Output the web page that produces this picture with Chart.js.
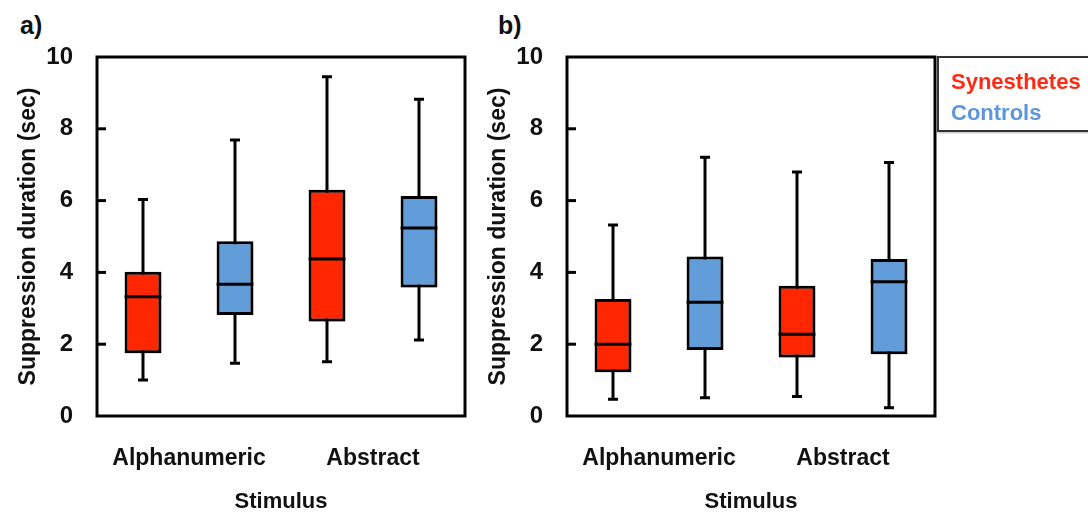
<!DOCTYPE html>
<html>
<head>
<meta charset="utf-8">
<script src="https://cdn.jsdelivr.net/npm/chart.js@4.4.0/dist/chart.umd.min.js"></script>
<style>
  body { margin: 0; background: #fff; width: 1088px; height: 516px; overflow: hidden; position: relative;
         font-family: 'Liberation Sans', Arial, sans-serif; }
  .panel { position: absolute; top: 0; width: 480px; height: 516px; }
  #wrapA { left: 0; }
  #wrapB { left: 470px; }
  .tag { position: absolute; top: 11px; font-weight: bold; font-size: 25px; color: #111; }
  #legend { position: absolute; left: 937px; top: 56px; width: 160px; border: 2px solid #333;
            box-shadow: 1px 1px 2px rgba(0,0,0,0.3); font-weight: bold; font-size: 22px; line-height: 31px;
            padding: 8px 0 0 12px; box-sizing: border-box; height: 76px; }
  #legend .syn { color: #ff2a14; }
  #legend .ctl { color: #5b97da; }
</style>
</head>
<body>
<div class="tag" style="left:20px">a)</div>
<div class="tag" style="left:498px">b)</div>
<div class="panel" id="wrapA"><canvas id="chartA" width="480" height="516"></canvas></div>
<div class="panel" id="wrapB"><canvas id="chartB" width="480" height="516"></canvas></div>
<div id="legend"><div class="syn">Synesthetes</div><div class="ctl">Controls</div></div>
<script>
// categorias
const categories = ['Alphanumeric', 'Abstract'];
const yTicks = [0, 2, 4, 6, 8, 10];

// panel a) - synesthetes
const aSynMin = [1.0, 1.51];
const aSynQ1 = [1.75, 2.63];
const aSynMed = [3.32, 4.37];
const aSynQ3 = [4.02, 6.30];
const aSynMax = [6.03, 9.45];
// panel a) - controls
const aCtlMin = [1.47, 2.12];
const aCtlQ1 = [2.81, 3.58];
const aCtlMed = [3.67, 5.24];
const aCtlQ3 = [4.87, 6.13];
const aCtlMax = [7.69, 8.82];

// panel b) - synesthetes
const bSynMin = [0.47, 0.54];
const bSynQ1 = [1.22, 1.63];
const bSynMed = [2.0, 2.28];
const bSynQ3 = [3.26, 3.63];
const bSynMax = [5.32, 6.80];
// panel b) - controls
const bCtlMin = [0.51, 0.23];
const bCtlQ1 = [1.84, 1.72];
const bCtlMed = [3.17, 3.74];
const bCtlQ3 = [4.44, 4.37];
const bCtlMax = [7.21, 7.06];

const red = '#ff2600';
const blue = '#629dd9';
const font = "'Liberation Sans', Arial, sans-serif";

// whiskers, medians, frame and inward ticks
const boxPlugin = {
  id: 'boxWhiskers',
  beforeDatasetsDraw(chart) {
    const { ctx, scales: { y } } = chart;
    ctx.save();
    ctx.strokeStyle = '#000';
    ctx.lineWidth = 3;
    chart.data.datasets.forEach((ds, di) => {
      chart.getDatasetMeta(di).data.forEach((bar, i) => {
        const lo = y.getPixelForValue(ds.lo[i]);
        const hi = y.getPixelForValue(ds.hi[i]);
        ctx.beginPath();
        ctx.moveTo(bar.x, lo); ctx.lineTo(bar.x, hi);
        ctx.moveTo(bar.x - 5, lo); ctx.lineTo(bar.x + 5, lo);
        ctx.moveTo(bar.x - 5, hi); ctx.lineTo(bar.x + 5, hi);
        ctx.stroke();
      });
    });
    ctx.restore();
    ctx.save();
    ctx.shadowColor = 'rgba(0,0,0,0.4)';
    ctx.shadowBlur = 5;
    ctx.shadowOffsetX = 2;
    ctx.shadowOffsetY = 2;
  },
  afterDatasetsDraw(chart) {
    const { ctx, chartArea: a, scales: { y } } = chart;
    ctx.restore();
    ctx.save();
    ctx.strokeStyle = '#000';
    ctx.lineWidth = 3;
    chart.data.datasets.forEach((ds, di) => {
      chart.getDatasetMeta(di).data.forEach((bar, i) => {
        const m = y.getPixelForValue(ds.med[i]);
        ctx.beginPath();
        ctx.moveTo(bar.x - bar.width / 2, m);
        ctx.lineTo(bar.x + bar.width / 2, m);
        ctx.stroke();
      });
    });
    ctx.strokeRect(a.left, a.top, a.right - a.left, a.bottom - a.top);
    y.ticks.forEach(t => {
      if (t.value === 0 || t.value === 10) return;
      const py = y.getPixelForValue(t.value);
      ctx.beginPath();
      ctx.moveTo(a.left, py);
      ctx.lineTo(a.left + 9, py);
      ctx.stroke();
    });
    ctx.restore();
  }
};

function makeChart(id, syn, ctl) {
  return new Chart(document.getElementById(id), {
    type: 'bar',
    data: {
      labels: categories,
      datasets: [
        { label: 'Synesthetes', data: syn.q1.map((v, i) => [v, syn.q3[i]]),
          lo: syn.min, hi: syn.max, med: syn.med,
          backgroundColor: red, borderColor: '#000', borderWidth: 3, borderSkipped: false },
        { label: 'Controls', data: ctl.q1.map((v, i) => [v, ctl.q3[i]]),
          lo: ctl.min, hi: ctl.max, med: ctl.med,
          backgroundColor: blue, borderColor: '#000', borderWidth: 3, borderSkipped: false }
      ]
    },
    options: {
      responsive: false,
      animation: false,
      categoryPercentage: 1.0,
      barPercentage: 0.4,
      layout: { padding: { left: 0, top: 57, right: 15, bottom: 0 } },
      plugins: { legend: { display: false }, tooltip: { enabled: false } },
      scales: {
        x: {
          grid: { display: false },
          border: { display: false },
          ticks: { color: '#111', padding: 21, font: { family: font, size: 23, weight: 'bold' } },
          title: { display: true, text: 'Stimulus', color: '#111', padding: { top: 0, bottom: 1 },
                   font: { family: font, size: 22, weight: 'bold' } },
          afterFit: s => { s.height = 100; }
        },
        y: {
          min: 0, max: 10,
          afterBuildTicks: s => { s.ticks = yTicks.map(v => ({ value: v })); },
          grid: { display: false, drawTicks: false },
          border: { display: false },
          ticks: { color: '#111', padding: 24, font: { family: font, size: 24, weight: 'bold' } },
          title: { display: true, text: 'Suppression duration (sec)', color: '#111', padding: { top: 15, bottom: 0 },
                   font: { family: font, size: 23, weight: 'bold' } },
          afterFit: s => { s.width = 97; }
        }
      }
    },
    plugins: [boxPlugin]
  });
}

makeChart('chartA',
  { min: aSynMin, q1: aSynQ1, med: aSynMed, q3: aSynQ3, max: aSynMax },
  { min: aCtlMin, q1: aCtlQ1, med: aCtlMed, q3: aCtlQ3, max: aCtlMax });
makeChart('chartB',
  { min: bSynMin, q1: bSynQ1, med: bSynMed, q3: bSynQ3, max: bSynMax },
  { min: bCtlMin, q1: bCtlQ1, med: bCtlMed, q3: bCtlQ3, max: bCtlMax });
</script>
</body>
</html>
